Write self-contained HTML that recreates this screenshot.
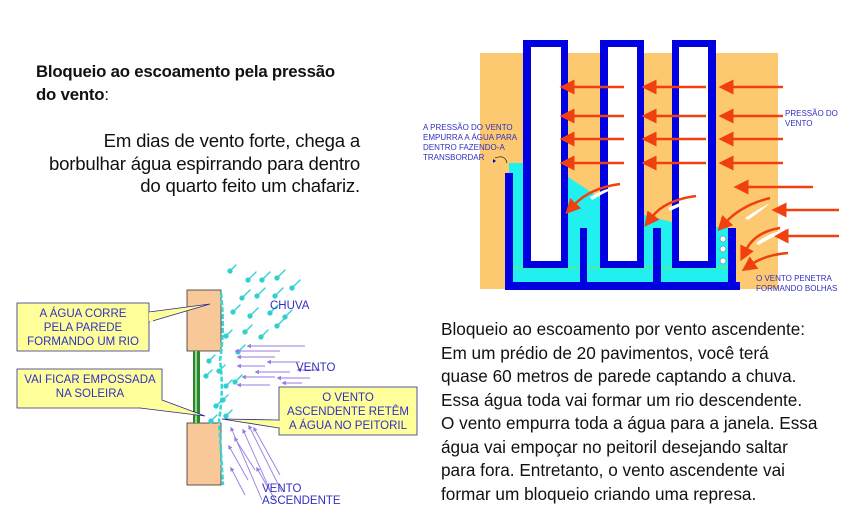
<!DOCTYPE html>
<html><head><meta charset="utf-8"><style>
body{margin:0;width:848px;height:512px;background:#fff;position:relative;overflow:hidden;font-family:"Liberation Sans",sans-serif}
.t{position:absolute;white-space:nowrap;color:#111}
</style></head><body>
<div class="t" style="left:36px;top:60px;font-size:16.8px;font-weight:bold;line-height:23px;letter-spacing:-0.2px">Bloqueio ao escoamento pela pressão<br>do vento<span style="font-weight:normal">:</span></div>
<div class="t" style="right:488px;top:130px;font-size:18.6px;line-height:22.7px;text-align:right;letter-spacing:-0.2px">Em dias de vento forte, chega a<br>borbulhar água espirrando para dentro<br>do quarto feito um chafariz.</div>
<div class="t" style="left:441px;top:318px;font-size:17.2px;line-height:23.5px">Bloqueio ao escoamento por vento ascendente:<br>Em um prédio de 20 pavimentos, você terá<br>quase 60 metros de parede captando a chuva.<br>Essa água toda vai formar um rio descendente.<br>O vento empurra toda a água para a janela. Essa<br>água vai empoçar no peitoril desejando saltar<br>para fora. Entretanto, o vento ascendente vai<br>formar um bloqueio criando uma represa.</div>

<svg width="848" height="512" style="position:absolute;left:0;top:0" font-family="Liberation Sans,sans-serif">
<defs>
<marker id="ar" markerWidth="6" markerHeight="6" refX="1" refY="3" orient="auto"><path d="M6,0 L0,3 L6,6 Z" fill="#f04010" transform="rotate(180 3 3)"/></marker>
<marker id="pv" markerWidth="5" markerHeight="5" refX="1" refY="2.5" orient="auto"><path d="M5,0 L0,2.5 L5,5Z" fill="#9a7ae0" transform="rotate(180 2.5 2.5)"/></marker>
</defs>
<!-- top right diagram -->
<rect x="480" y="53" width="298" height="236" fill="#fcc870"/>
<path d="M509,163 L523,163 L523,268 L568,268 L568,177 L600,198 L600,268 L644,268 L644,215 L672,222 L672,268 L716,268 L716,227 L728,227 L728,282 L513,282 L513,173 L509,173Z" fill="#22f0f0"/>
<rect x="513" y="266" width="215" height="3" fill="#40f0b0"/>
<g fill="#0000e0">
<rect x="523" y="40" width="45" height="228"/><rect x="600" y="40" width="44" height="228"/><rect x="672" y="40" width="44" height="228"/>
<rect x="505" y="173" width="8" height="117"/><rect x="505" y="282" width="235" height="8"/><rect x="728" y="228" width="8" height="62"/>
<rect x="580" y="228" width="7" height="56"/><rect x="653" y="228" width="8" height="56"/>
</g>
<g fill="#fff"><rect x="531" y="47" width="30" height="214"/><rect x="608" y="47" width="29" height="214"/><rect x="679" y="47" width="29" height="214"/>
<circle cx="723" cy="239" r="3" stroke="#555" stroke-width="0.5"/><circle cx="723" cy="249" r="3" stroke="#555" stroke-width="0.5"/><circle cx="723" cy="261" r="3" stroke="#555" stroke-width="0.5"/></g>
<g stroke="#f04010" stroke-width="2.5" fill="none" marker-end="url(#ar)">
<path d="M624,87H572"/><path d="M706,87H654"/><path d="M783,87H731"/>
<path d="M624,116H572"/><path d="M706,116H654"/><path d="M783,116H731"/>
<path d="M624,139H572"/><path d="M706,139H654"/><path d="M783,139H731"/>
<path d="M624,163H572"/><path d="M706,163H654"/><path d="M783,163H731"/>
<path d="M813,187H746"/><path d="M839,210H784"/><path d="M839,236H786"/>
<path d="M620,184 Q590,188 574,205"/><path d="M696,196 Q665,200 652,217"/><path d="M770,198 Q742,205 726,222"/>
<path d="M780,228 Q755,232 746,250"/><path d="M788,253 Q765,255 752,264"/>
</g>
<g fill="#fff"><path d="M590,197 Q605,188 620,186 Q605,192 592,200Z"/><path d="M668,208 Q685,200 698,198 Q685,204 670,211Z"/><path d="M745,218 Q760,208 770,203 Q760,212 748,220Z"/><path d="M756,243 Q770,232 785,230 Q772,238 758,245Z"/></g>
<g fill="#3030c0" font-size="8">
<text x="423" y="130">A PRESSÃO DO VENTO</text><text x="423" y="140">EMPURRA A ÁGUA PARA</text><text x="423" y="150">DENTRO FAZENDO-A</text><text x="423" y="160">TRANSBORDAR</text>
<text x="785" y="116">PRESSÃO DO</text><text x="785" y="126">VENTO</text>
<text x="756" y="281">O VENTO PENETRA</text><text x="756" y="291">FORMANDO BOLHAS</text>
</g>
<path d="M507,163 Q505,154 495,158" stroke="#000" fill="none" stroke-width="0.6"/>
<path d="M493,159 l0,4 l3,-2z" fill="#0000c0"/>

<!-- left diagram -->
<rect x="187" y="290" width="34" height="61" fill="#f8c898" stroke="#333" stroke-width="0.8"/>
<rect x="187" y="423" width="34" height="62" fill="#f8c898" stroke="#333" stroke-width="0.8"/>
<rect x="193" y="351" width="7" height="72" fill="#2a8a2a"/><rect x="195" y="351" width="2" height="72" fill="#9ad09a"/>
<path d="M221,293 Q225,330 220,360 Q224,390 219,420 L223,485" stroke="#30d8d8" stroke-width="2.5" fill="none" stroke-dasharray="5 2"/>
<g stroke="#30d0d0" stroke-width="1.3" stroke-linecap="round" fill="#30d0d0">
<path d="M256,272l-8,8"/><circle cx="248" cy="280" r="2"/>
<path d="M270,272l-8,8"/><circle cx="262" cy="280" r="2"/>
<path d="M285,270l-8,8"/><circle cx="277" cy="278" r="2"/>
<path d="M250,290l-8,8"/><circle cx="242" cy="298" r="2"/>
<path d="M265,288l-8,8"/><circle cx="257" cy="296" r="2"/>
<path d="M283,288l-8,8"/><circle cx="275" cy="296" r="2"/>
<path d="M300,280l-8,8"/><circle cx="292" cy="288" r="2"/>
<path d="M240,305l-7,7"/><circle cx="233" cy="312" r="2"/>
<path d="M258,308l-8,8"/><circle cx="250" cy="316" r="2"/>
<path d="M278,305l-8,8"/><circle cx="270" cy="313" r="2"/>
<path d="M292,310l-7,7"/><circle cx="285" cy="317" r="2"/>
<path d="M252,325l-7,7"/><circle cx="245" cy="332" r="2"/>
<path d="M268,330l-7,7"/><circle cx="261" cy="337" r="2"/>
<path d="M285,318l-8,8"/><circle cx="277" cy="326" r="2"/>
<path d="M245,345l-7,7"/><circle cx="238" cy="352" r="2"/>
<path d="M232,330l-6,6"/><circle cx="226" cy="336" r="2"/>
<path d="M236,265l-6,6"/><circle cx="230" cy="271" r="2"/>
<path d="M215,355l-6,6"/><circle cx="209" cy="361" r="2"/>
<path d="M212,370l-6,6"/><circle cx="206" cy="376" r="2"/>
<path d="M225,365l-6,6"/><circle cx="219" cy="371" r="2"/>
<path d="M232,380l-6,6"/><circle cx="226" cy="386" r="2"/>
<path d="M222,400l-6,6"/><circle cx="216" cy="406" r="2"/>
<path d="M232,410l-6,6"/><circle cx="226" cy="416" r="2"/>
<path d="M217,415l-6,6"/><circle cx="211" cy="421" r="2"/>
<path d="M242,375l-7,7"/><circle cx="235" cy="382" r="2"/>
<path d="M228,395l-5,5"/><circle cx="223" cy="400" r="2"/>
</g>
<g stroke="#9a7ae0" stroke-width="0.9" marker-end="url(#pv)">
<path d="M305,346H250"/><path d="M280,351H238"/><path d="M275,357H240"/><path d="M300,362H270"/><path d="M265,366H240"/><path d="M290,372H258"/><path d="M320,370H300"/><path d="M275,377H245"/><path d="M310,378H280"/><path d="M270,385H240"/><path d="M302,383H285"/>
<path d="M262,500L232,430"/><path d="M270,490L244,432"/><path d="M282,492L250,428"/><path d="M255,470L236,440"/><path d="M280,475L255,430"/><path d="M248,480L230,448"/><path d="M245,495L232,470"/><path d="M275,500L258,470"/>
</g>
<g stroke="#2a2a90" stroke-width="0.8" fill="#ffff99">
<path d="M17,303H149V351H17Z"/><path d="M149,312 L210,304 L149,322"/>
<path d="M17,369H162V408H17Z"/><path d="M140,408 L205,416 L162,400"/>
<path d="M279,387H417V435H279Z"/><path d="M279,420 L222,419 L279,428"/>
</g>
<rect x="150" y="312" width="3" height="10" fill="#ffff99"/><rect x="140" y="401" width="21" height="6" fill="#ffff99"/><rect x="277" y="421" width="3" height="6" fill="#ffff99"/>
<g fill="#3030c0" font-size="11.5" text-anchor="middle">
<text x="83" y="317">A ÁGUA CORRE</text><text x="83" y="331">PELA PAREDE</text><text x="83" y="345">FORMANDO UM RIO</text>
<text x="90" y="383">VAI FICAR EMPOSSADA</text><text x="90" y="397">NA SOLEIRA</text>
<text x="348" y="401">O VENTO</text><text x="348" y="415">ASCENDENTE RETÊM</text><text x="348" y="429">A ÁGUA NO PEITORIL</text>
</g>
<g fill="#3030c0" font-size="11.5"><text x="270" y="309">CHUVA</text><text x="296" y="371">VENTO</text><text x="262" y="492">VENTO</text><text x="262" y="504">ASCENDENTE</text></g>
</svg>
</body></html>
